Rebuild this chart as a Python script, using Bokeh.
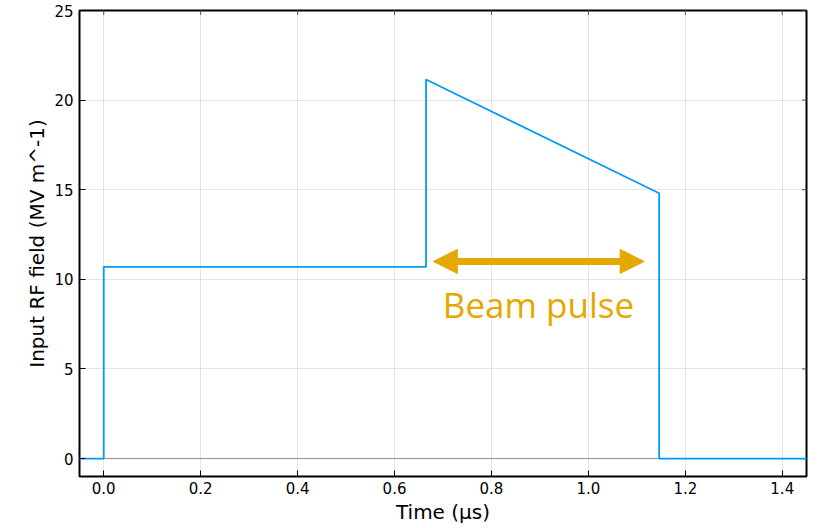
import math
from bokeh.plotting import figure
from bokeh.models import Arrow, NormalHead, Span, Label, FixedTicker
from bokeh.embed import file_html
from bokeh.resources import INLINE

# data
time_us = [-0.05, 0.0, 0.0, 0.665, 0.665, 1.146, 1.146, 1.45]
field = [0.0, 0.0, 10.7, 10.7, 21.15, 14.8, 0.0, 0.0]
x_ticks = [0.0, 0.2, 0.4, 0.6, 0.8, 1.0, 1.2, 1.4]
y_ticks = [0, 5, 10, 15, 20, 25]
x_min, x_max = -0.05, 1.45
y_min, y_max = -1, 25
beam_start, beam_end, beam_level = 0.68, 1.115, 11.0
beam_label = "Beam pulse"
beam_label_x, beam_label_y = 0.897, 8.6

p = figure(width=818, height=528, output_backend="svg", toolbar_location=None,
           x_range=(x_min, x_max), y_range=(y_min, y_max),
           min_border_left=79, min_border_right=12, min_border_top=10, min_border_bottom=52)
p.background_fill_color = "white"
p.border_fill_color = "white"
p.outline_line_color = "black"
p.outline_line_width = 2

p.xgrid.ticker = FixedTicker(ticks=x_ticks)
p.ygrid.ticker = FixedTicker(ticks=y_ticks)
p.grid.grid_line_color = "black"
p.grid.grid_line_alpha = 0.1
p.grid.grid_line_width = 1

p.add_layout(Span(location=0, dimension="width", line_color="#8c8c8c", line_width=1,
                  level="underlay"))

# mirrored ticks on top and right edges (clipped to frame, half shows inside)
p.scatter(x=x_ticks, y=[y_max] * len(x_ticks), marker="dash", size=9, angle=math.pi / 2,
          line_color="#555555", line_width=1)
p.scatter(x=[x_max] * len(y_ticks), y=y_ticks, marker="dash", size=9, angle=0,
          line_color="#555555", line_width=1)

p.line(time_us, field, line_color="#009AFA", line_width=1.8)

p.add_layout(Arrow(x_start=beam_start, y_start=beam_level, x_end=beam_end, y_end=beam_level,
                   line_color="#E5A800", line_width=7,
                   start=NormalHead(size=24, fill_color="#E5A800", line_color="#E5A800"),
                   end=NormalHead(size=24, fill_color="#E5A800", line_color="#E5A800")))
p.add_layout(Label(x=beam_label_x, y=beam_label_y, text=beam_label, text_align="center",
                   text_baseline="middle", text_color="#E5A800", text_font="Open Sans",
                   text_font_size="35px"))

for ax in (p.xaxis[0], p.yaxis[0]):
    ax.major_tick_in = 6
    ax.major_tick_out = 0
    ax.minor_tick_line_color = None
    ax.axis_line_color = None
    ax.major_label_text_font = "DejaVu Sans"
    ax.major_label_text_font_size = "15px"
    ax.major_label_text_color = "black"
    ax.axis_label_text_font = "DejaVu Sans"
    ax.axis_label_text_font_size = "20px"
    ax.axis_label_text_font_style = "normal"
    ax.axis_label_text_color = "black"
    ax.major_tick_line_color = "black"

p.xaxis[0].ticker = FixedTicker(ticks=x_ticks)
p.yaxis[0].ticker = FixedTicker(ticks=y_ticks)
p.xaxis[0].major_label_overrides = {t: f"{t:.1f}" for t in x_ticks}
p.xaxis[0].axis_label = "Time (μs)"
p.yaxis[0].axis_label = "Input RF field (MV m^-1)"
p.xaxis[0].major_label_standoff = 5
p.xaxis[0].axis_label_standoff = 3
p.yaxis[0].major_label_standoff = 6
p.yaxis[0].axis_label_standoff = 2

open("out.html", "w").write(file_html(p, INLINE))
